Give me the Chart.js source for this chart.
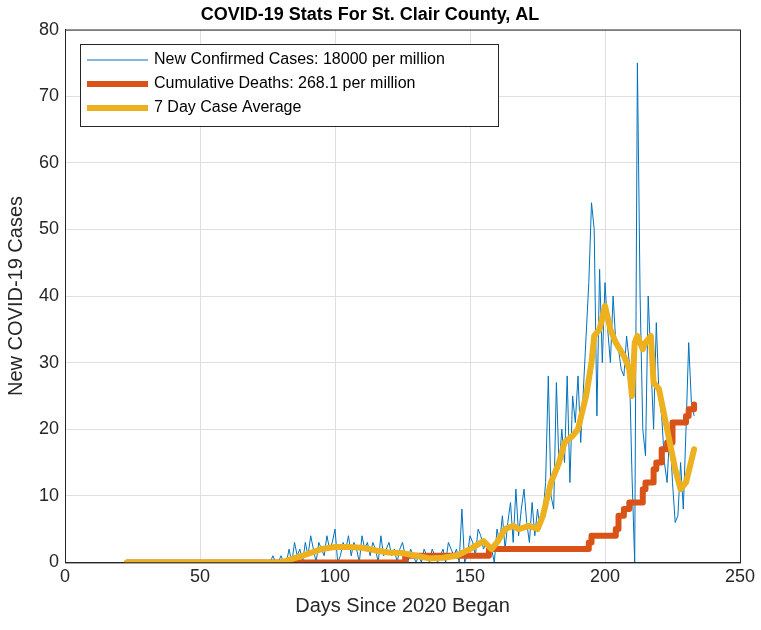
<!DOCTYPE html>
<html>
<head>
<meta charset="utf-8">
<script src="https://cdn.jsdelivr.net/npm/chart.js@4"></script>
<style>
  html, body { margin: 0; padding: 0; background: #fff; }
  canvas { display: block; }
</style>
</head>
<body>
<canvas id="chart" width="761" height="630"></canvas>
<script>
// daily new cases, day 23 .. 233
const firstDay = 23;
const newCases = [
  0,0,0,0,0,0,0,0,0,0,0,0,0,0,0,0,0,0,0,0,0,0,0,0,0,0,0,
  0,0,0,0,0,0,0,0,0,0,0,0,0,0,0,0,0,0,0,0,0,0,0,0,0,0,0,
  1,0,0,1,0,0,2,0,3,1,2,0,3,1,4,2,0,3,2,1,4,2,3,
  5,0,1,3,2,4,1,3,2,0,4,2,3,1,3,2,0,4,1,2,3,1,2,0,2,3,1,0,2,1,0,
  1,0,2,1,0,2,1,0,1,2,0,3,2,1,2,0,8,0,1,4,3,1,5,4,2,
  3,1,2,0,5,3,7,2,6,9,3,11,4,8,11,6,3,9,4,8,
  5,7,12,28,10,8,27,14,20,15,28,12,25,21,28,18,26,34,42,54,50,22,44,30,42,35,30,40,33,32,
  29,28,34,30,13,0,75,40,20,16,40,30,20,36,25,22,15,12,20,12,6,7,15,8,20,33,24,22
];
const caseDays = newCases.map((v, i) => firstDay + i);

// 7 day average, read at key days
const avgDays = [23, 80, 88, 95, 100, 105, 110, 115, 120, 125, 130, 135, 140, 145, 150, 155, 158, 160, 163, 166, 168, 172, 175, 177, 180, 183, 185, 188, 190, 193, 195, 196, 198, 200, 202, 204, 207, 209, 210, 211, 212, 214, 215, 217, 218, 220, 223, 226, 228, 230, 233];
const avgVals = [0, 0, 1, 2, 2.3, 2.3, 2.2, 1.8, 1.5, 1.4, 1, 0.6, 0.7, 1, 2, 3.2, 2, 3, 5, 5.5, 5, 5.5, 5, 7, 12, 15, 18, 19, 20, 25, 30, 34, 35, 38.5, 35, 33, 31, 29, 25, 33, 34, 32, 33, 34, 27, 26, 20, 14, 11, 12, 17];

// cumulative deaths, step changes
const deathDays = [23, 126, 157, 194, 195, 204, 205, 207, 209, 214, 215, 218, 219, 221, 223, 225, 230, 231, 233];
const deathVals = [0, 1, 2, 3, 4, 5, 7, 8, 9, 11, 12, 14, 15, 17, 18, 21, 22, 23, 23.7];

const xTicks = [0, 50, 100, 150, 200, 250];
const yTicks = [0, 10, 20, 30, 40, 50, 60, 70, 80];
const legendLabels = ["New Confirmed Cases: 18000 per million", "Cumulative Deaths: 268.1 per million", "7 Day Case Average"];

const FONT = "'Liberation Sans', Arial, sans-serif";

const frame = {
    id: "frame",
    afterDraw(chart) {
        const { ctx, chartArea: a } = chart;
        ctx.save();
        ctx.strokeStyle = "#262626";
        ctx.lineWidth = 1;
        ctx.strokeRect(a.left + 0.5, a.top + 0.5, a.right - a.left, a.bottom - a.top);
        // legend box
        const lx = 80, ly = 44, lw = 418, lh = 82;
        ctx.fillStyle = "#fff";
        ctx.fillRect(lx, ly, lw, lh);
        ctx.strokeRect(lx + 0.5, ly + 0.5, lw, lh);
        const styles = [["#0072BD", 1], ["#D95319", 6], ["#EDB120", 6]];
        ctx.font = "16px " + FONT;
        ctx.textBaseline = "middle";
        legendLabels.forEach((t, i) => {
            const y = ly + 16 + i * 24;
            ctx.strokeStyle = styles[i][0];
            ctx.lineWidth = styles[i][1];
            ctx.beginPath();
            ctx.moveTo(lx + 7, y);
            ctx.lineTo(lx + 68, y);
            ctx.stroke();
            ctx.fillStyle = "#000";
            ctx.fillText(t, lx + 74, y);
        });
        ctx.restore();
    }
};

new Chart(document.getElementById("chart"), {
    type: "line",
    data: {
        datasets: [
            {
                data: caseDays.map((d, i) => ({ x: d, y: newCases[i] })),
                borderColor: "#0072BD",
                borderWidth: 1,
                pointRadius: 0,
                tension: 0,
                order: 3
            },
            {
                data: deathDays.map((d, i) => ({ x: d, y: deathVals[i] })),
                borderColor: "#D95319",
                borderWidth: 6,
                pointRadius: 0,
                stepped: true,
                borderJoinStyle: "round",
                borderCapStyle: "round",
                order: 2
            },
            {
                data: avgDays.map((d, i) => ({ x: d, y: avgVals[i] })),
                borderColor: "#EDB120",
                borderWidth: 6,
                pointRadius: 0,
                tension: 0,
                borderJoinStyle: "round",
                borderCapStyle: "round",
                order: 1
            }
        ]
    },
    options: {
        responsive: false,
        animation: false,
        layout: { padding: { top: 4, right: 21, left: 0, bottom: 8 } },
        plugins: {
            legend: { display: false },
            tooltip: { enabled: false },
            title: {
                display: true,
                text: "COVID-19 Stats For St. Clair County, AL",
                color: "#000",
                font: { size: 18, weight: "bold", family: FONT },
                padding: { top: 0, bottom: 4 }
            }
        },
        scales: {
            x: {
                type: "linear",
                min: 0, max: 250,
                afterBuildTicks: s => { s.ticks = xTicks.map(v => ({ value: v })); },
                ticks: { color: "#262626", font: { size: 18, family: FONT }, padding: 4 },
                grid: { color: "#dfdfdf", tickLength: 0 },
                border: { color: "#262626" },
                title: { display: true, text: "Days Since 2020 Began", color: "#262626", font: { size: 20, family: FONT }, padding: { top: 2 } }
            },
            y: {
                min: 0, max: 80,
                afterBuildTicks: s => { s.ticks = yTicks.map(v => ({ value: v })); },
                afterFit: s => { s.width = 65; },
                ticks: { color: "#262626", font: { size: 18, family: FONT }, padding: 6 },
                grid: { color: "#dfdfdf", tickLength: 0 },
                border: { color: "#262626" },
                title: { display: true, text: "New COVID-19 Cases", color: "#262626", font: { size: 20, family: FONT }, padding: { bottom: 2 } }
            }
        }
    },
    plugins: [frame]
});
</script>
</body>
</html>
